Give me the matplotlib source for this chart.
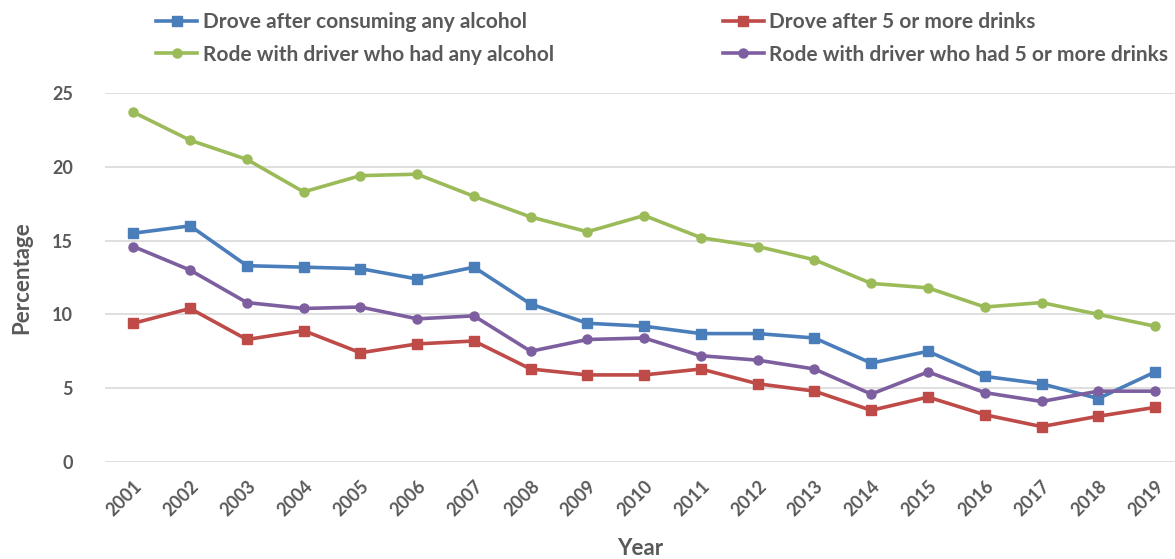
import matplotlib
matplotlib.use("Agg")
import matplotlib.pyplot as plt

years = list(range(2001, 2020))
drove_any = [15.5, 16.0, 13.3, 13.2, 13.1, 12.4, 13.2, 10.7, 9.4, 9.2, 8.7, 8.7, 8.4, 6.7, 7.5, 5.8, 5.3, 4.3, 6.1]
rode_any = [23.7, 21.8, 20.5, 18.3, 19.4, 19.5, 18.0, 16.6, 15.6, 16.7, 15.2, 14.6, 13.7, 12.1, 11.8, 10.5, 10.8, 10.0, 9.2]
drove_5 = [9.4, 10.4, 8.3, 8.9, 7.4, 8.0, 8.2, 6.3, 5.9, 5.9, 6.3, 5.3, 4.8, 3.5, 4.4, 3.2, 2.4, 3.1, 3.7]
rode_5 = [14.6, 13.0, 10.8, 10.4, 10.5, 9.7, 9.9, 7.5, 8.3, 8.4, 7.2, 6.9, 6.3, 4.6, 6.1, 4.7, 4.1, 4.8, 4.8]

labels = ["Drove after consuming any alcohol", "Rode with driver who had any alcohol",
          "Drove after 5 or more drinks", "Rode with driver who had 5 or more drinks"]
yticks = [0, 5, 10, 15, 20, 25]

plt.rcParams['font.family'] = ['Lato', 'DejaVu Sans']
txt = '#595959'

fig = plt.figure(figsize=(11.75, 5.59), dpi=100)
ax = fig.add_axes([105/1175, 1-462/559, 1-105/1175, (462-93)/559])

lw = 2.6
ax.plot(years, drove_any, color='#4A7EBB', lw=lw, marker='s', ms=7, label=labels[0])
ax.plot(years, rode_any, color='#9BBB59', lw=lw, marker='o', ms=6.5, label=labels[1])
ax.plot(years, drove_5, color='#BE4B48', lw=lw, marker='s', ms=7, label=labels[2])
ax.plot(years, rode_5, color='#7D5FA0', lw=lw, marker='o', ms=6.5, label=labels[3])

ax.set_ylim(0, 25)
ax.set_xlim(2000.5, 2001 + (1175-133)/56.78)
ax.set_yticks(yticks)
ax.set_xticks(years)
ax.set_xticklabels([str(y) for y in years], rotation=45, ha='right', rotation_mode='anchor')
ax.grid(axis='y', color='#D9D9D9', lw=1.2)
ax.set_axisbelow(True)
for s in ax.spines.values():
    s.set_visible(False)
ax.tick_params(length=0, colors=txt, labelsize=13)
for lab in ax.get_xticklabels() + ax.get_yticklabels():
    lab.set_fontweight('bold')
ax.tick_params(axis='y', pad=23)
ax.tick_params(axis='x', pad=11)
ax.set_ylabel('Percentage', fontsize=16, fontweight='bold', color=txt, labelpad=14)
ax.set_xlabel('Year', fontsize=16, fontweight='bold', color=txt, labelpad=14)

leg = fig.legend(loc='upper left', bbox_to_anchor=(137/1175, 1.012), ncol=2, frameon=False,
                 prop={'weight': 'bold', 'size': 15}, handlelength=2.0, handletextpad=0.25,
                 columnspacing=8.1, labelspacing=0.6)
for t in leg.get_texts():
    t.set_color(txt)

fig.savefig('out.png', dpi=100)
